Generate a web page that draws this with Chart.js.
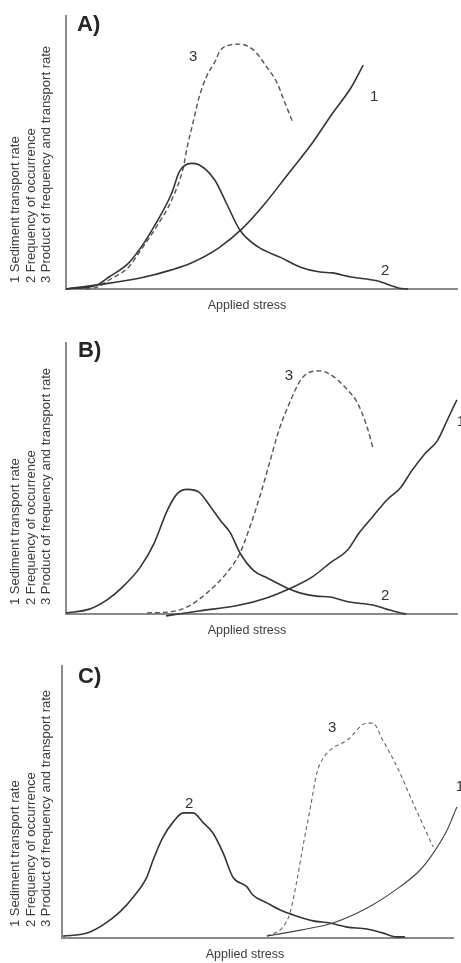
<!DOCTYPE html>
<html>
<head>
<title>Frequency and magnitude of sediment transport</title>
<script src="https://cdn.jsdelivr.net/npm/chart.js"></script>
<style>
  body { margin: 0; background: #fff; }
  canvas { display: block; }
</style>
<script>
// x = applied stress, y = curve height, both as % of the axis length
// curve 1 = sediment transport rate, 2 = frequency of occurrence, 3 = product

// Panel A
const stressA1 = [0, 8, 19, 27, 32, 39, 45, 51, 57, 63, 68, 73, 76];
const rateA1 = [0, 1.5, 4, 7, 9.5, 15, 22, 31.5, 42.5, 53.5, 64, 74, 82];
const stressA2 = [0, 8, 11, 16, 20, 23, 27, 29, 32, 34, 38, 41, 44.5, 49, 55, 60, 65, 68, 73, 79.5, 85, 87.5];
const freqA2 = [0, 1.5, 4.4, 9.5, 17, 24, 35, 43, 46, 45.5, 40, 31.5, 21.5, 15.5, 11.5, 8, 6.2, 5.9, 4.4, 3, 0.4, 0];
const stressA3 = [5, 8, 11, 16, 19, 23, 27, 30, 31, 32.5, 34, 36, 38, 39.5, 42, 44.5, 48, 51.5, 54, 55.5, 58];
const prodA3 = [0, 0.7, 3.3, 8, 14, 22.5, 32.5, 44.5, 52, 61, 70, 78, 83, 87.5, 89.4, 89.7, 87.5, 81, 75.5, 70, 61];

// Panel B
const stressB1 = [25.6, 34, 44.5, 51.5, 57, 63, 67.5, 72, 75, 78.5, 82, 85.5, 88.5, 92, 95, 97.5, 100, 101.3];
const rateB1 = [-0.7, 1.1, 3.3, 6, 9.2, 13.7, 18.8, 23.6, 30, 36, 42, 46.5, 53, 59.5, 64, 71.5, 79, 82];
const stressB2 = [0, 6, 10.5, 14.5, 19, 22.5, 26, 28.5, 31, 34, 37, 39.5, 42, 44.5, 48, 51.5, 56.5, 60, 64, 67.5, 72.5, 78.5, 82, 85.5, 87];
const freqB2 = [0.4, 1.8, 5.2, 10, 17.3, 26, 38.5, 44.5, 46, 45, 39.5, 34.5, 30, 22.5, 16, 13.3, 9.6, 7.7, 6.6, 6.3, 4.4, 3.3, 1.8, 0.4, 0];
const stressB3 = [20.7, 26, 31, 36, 41, 44.5, 47, 49.5, 52, 54.5, 57.5, 60, 62.5, 65, 68.5, 72, 74.5, 77, 78.5];
const prodB3 = [0.4, 0.7, 2.6, 7.7, 15, 22.5, 32, 43, 55.5, 68, 79, 86.3, 89.3, 89.7, 87.5, 82.7, 78, 69, 61.3];

// Panel C
const stressC1 = [52.4, 61, 69.3, 78, 86.4, 91.6, 95, 98.5, 101, 102.3];
const rateC1 = [0.7, 2.9, 5.5, 11, 18.8, 25, 31.3, 39.7, 48.2, 51.8];
const stressC2 = [0.3, 6.4, 10.5, 14.8, 18.2, 21.7, 23.3, 25.8, 28.4, 31, 33.5, 36, 38.6, 41.2, 43.7, 47.3, 48.8, 52.4, 55.8, 59.1, 64.2, 68.5, 72.9, 78, 82.1, 85.7, 87.7];
const freqC2 = [0.7, 1.8, 4.8, 9.6, 15, 22.4, 28.7, 37, 42.6, 46, 46, 42.6, 38.6, 31.3, 22.4, 18.8, 15.8, 12.9, 10.3, 8.5, 6.3, 5.5, 4, 3.3, 1.8, 0.4, 0.4];
const stressC3 = [52.4, 56.5, 58.3, 60.1, 61.6, 63.4, 65.2, 66.5, 68.5, 73, 78, 79.5, 82, 85.7, 89.8, 94.9];
const prodC3 = [0.7, 4, 9.2, 21.3, 33.5, 47, 60.7, 65.4, 69, 72.8, 79, 79, 72.8, 62.9, 49.6, 33.5];

// curve number labels, same units
const curveTags = ['1', '2', '3'];
const tagXA = [78.8, 81.6, 32.5], tagYA = [70.3, 6.6, 85];
const tagXB = [101, 81.6, 57], tagYB = [70.8, 6.6, 87.8];
const tagXC = [101.8, 32.5, 69.1], tagYC = [55.5, 49.3, 77.2];

const yTitle = ['1 Sediment transport rate', '2 Frequency of occurrence', '3 Product of frequency and transport rate'];
const xTitle = 'Applied stress';
const FONT = '"Liberation Sans", Arial, sans-serif';

function pts(xs, ys) {
    return xs.map((x, i) => ({ x: x, y: ys[i] }));
}

function line(xs, ys, color, width, dash) {
    return {
        data: pts(xs, ys),
        borderColor: color,
        borderWidth: width,
        borderDash: dash || [],
        pointRadius: 0,
        cubicInterpolationMode: 'monotone',
        fill: false,
        clip: false
    };
}

const annotate = {
    id: 'annotate',
    afterDraw(chart, args, o) {
        const ctx = chart.ctx;
        const area = chart.chartArea;
        const sx = chart.scales.x, sy = chart.scales.y;
        ctx.save();

        // panel letter
        ctx.fillStyle = '#252525';
        ctx.font = 'bold 22px ' + FONT;
        ctx.textAlign = 'left';
        ctx.textBaseline = 'alphabetic';
        ctx.fillText(o.panel, o.panelX, o.panelY);

        // rotated y title
        ctx.fillStyle = '#3c3c3c';
        ctx.font = '13px ' + FONT;
        ctx.textBaseline = 'middle';
        yTitle.forEach((t, i) => {
            ctx.save();
            ctx.translate(15.5 + i * 15.5, area.bottom - o.titleGap);
            ctx.rotate(-Math.PI / 2);
            ctx.fillText(t, 0, 0);
            ctx.restore();
        });

        // x title
        ctx.font = '12.5px ' + FONT;
        ctx.textAlign = 'center';
        ctx.fillText(xTitle, o.xTitleX, area.bottom + 17);

        // curve numbers
        ctx.fillStyle = '#333';
        ctx.font = '15px ' + FONT;
        curveTags.forEach((t, i) => {
            ctx.fillText(t, sx.getPixelForValue(o.tagX[i]), sy.getPixelForValue(o.tagY[i]));
        });
        ctx.restore();
    }
};

function makeChart(id, datasets, padding, notes) {
    const axis = {
        type: 'linear',
        min: 0,
        max: 100,
        ticks: { display: false },
        grid: { display: false, drawTicks: false, tickLength: 0 },
        border: { display: true, color: '#8a8a8a', width: 2 }
    };
    new Chart(document.getElementById(id), {
        type: 'line',
        data: { datasets: datasets },
        options: {
            responsive: false,
            animation: false,
            layout: { padding: padding },
            plugins: {
                legend: { display: false },
                tooltip: { enabled: false },
                annotate: notes
            },
            scales: { x: axis, y: Object.assign({}, axis) }
        },
        plugins: [annotate]
    });
}

document.addEventListener('DOMContentLoaded', function() {
    const dark = '#353535', dash = '#555';

    makeChart('chartA', [
        line(stressA1, rateA1, dark, 1.6),
        line(stressA2, freqA2, dark, 1.6),
        line(stressA3, prodA3, dash, 1.4, [5, 3])
    ], { left: 66, right: 4, top: 16, bottom: 32 },
    { panel: 'A)', panelX: 77, panelY: 31, titleGap: 6, xTitleX: 247, tagX: tagXA, tagY: tagYA });

    makeChart('chartB', [
        line(stressB1, rateB1, dark, 1.6),
        line(stressB2, freqB2, dark, 1.6),
        line(stressB3, prodB3, dash, 1.4, [5, 3])
    ], { left: 66, right: 4, top: 22, bottom: 28 },
    { panel: 'B)', panelX: 78, panelY: 36, titleGap: 9, xTitleX: 247, tagX: tagXB, tagY: tagYB });

    makeChart('chartC', [
        line(stressC1, rateC1, '#444', 1.1),
        line(stressC2, freqC2, dark, 1.6),
        line(stressC3, prodC3, '#666', 1.1, [4, 3])
    ], { left: 62, right: 8, top: 24, bottom: 25 },
    { panel: 'C)', panelX: 78, panelY: 41, titleGap: 11, xTitleX: 245, tagX: tagXC, tagY: tagYC });
});
</script>
</head>
<body>
<canvas id="chartA" width="461" height="321"></canvas>
<canvas id="chartB" width="461" height="321"></canvas>
<canvas id="chartC" width="461" height="321"></canvas>
</body>
</html>
